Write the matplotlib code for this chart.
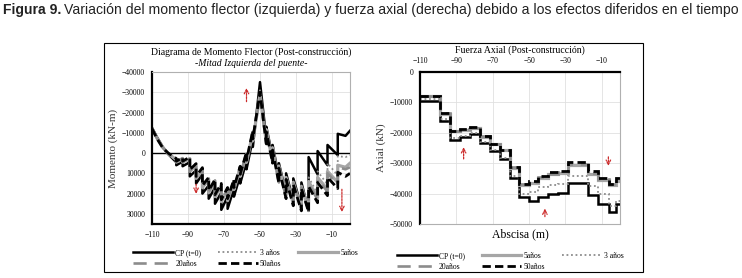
import matplotlib
matplotlib.use('Agg')
import matplotlib.pyplot as plt
import numpy as np
from matplotlib.patches import Rectangle

labels = ['CP (t=0)', '3 años', '5años', '20años', '50años']

# momento flector (kN-m), mitad izquierda del puente
x_mom = [-110, -107, -104, -101, -98, -96.5, -96.5, -93, -93, -89, -89, -85.5, -85.5,
         -82, -82, -78.5, -78.5, -75, -75, -71.5, -71.5, -68, -68, -64.5, -64.5,
         -61, -61, -57.5, -57.5, -54, -54, -50, -46.5, -46.5, -43, -43, -39.5, -39.5,
         -35.5, -35.5, -31.5, -31.5, -27, -27, -23, -23, -18, -18, -12.5, -12.5,
         -6.8, -6.8, -2.5, 0]
m_cp = [-12500, -7500, -3000, 500, 3200, 4500, 6000, 4200, 6500, 4500, 11500, 8500, 15000,
        10500, 20000, 16000, 22500, 17000, 25000, 19500, 28000, 21500, 27500, 17500, 21500,
        11000, 15000, 4000, 8000, -7000, -3000, -35000, -7000, -13000, 2000, -4000, 12000, 5000,
        20000, 10000, 23500, 12500, 26500, 14500, 28500, 2000, 10500, -1000, 6000, -4000,
        1000, -9500, -8500, -11000]
m_3 = [-12000, -7200, -3000, 200, 2500, 3500, 5000, 3200, 5000, 3000, 9500, 6500, 13000,
       8500, 17500, 13500, 20000, 14500, 22000, 16500, 24500, 18500, 24000, 14500, 18500,
       8000, 12000, 1000, 5000, -9500, -5500, -31000, -6000, -12000, 3500, -3000, 13500, 6000,
       21000, 11500, 24500, 14000, 27000, 16000, 28000, 12000, 20000, 9000, 15500, 5000,
       11000, 1500, 2000, 1000]
m_5 = [-12000, -7000, -2800, 300, 2300, 3200, 4500, 2800, 4500, 2700, 9000, 6000, 12500,
       8000, 17000, 13000, 19500, 14000, 21500, 16000, 24000, 18000, 23500, 14000, 18000,
       7500, 11500, 500, 4500, -10000, -6000, -29000, -5500, -11500, 4000, -2500, 14000, 6500,
       21500, 12000, 25000, 14500, 27500, 16500, 28000, 14000, 22000, 12000, 18000, 9000,
       14500, 6000, 7000, 5000]
m_20 = [-12000, -7000, -2700, 200, 2000, 3000, 4300, 2500, 4300, 2400, 8700, 5700, 12000,
        7700, 16500, 12500, 19000, 13500, 21000, 15500, 23500, 17500, 23000, 13500, 17500,
        7000, 11000, 0, 4000, -10500, -6500, -28000, -5000, -11000, 4500, -2000, 14500, 7000,
        22000, 12500, 25500, 15000, 28000, 17000, 28500, 15000, 23000, 13000, 19000, 10000,
        15500, 7000, 8000, 7000]
m_50 = [-12000, -6800, -2500, 0, 1800, 2700, 4000, 2200, 4000, 2000, 8200, 5200, 11500,
        7200, 16000, 12000, 18500, 13000, 20500, 15000, 23000, 17000, 22500, 13000, 17000,
        6500, 10500, -500, 3500, -11000, -7000, -30000, -4500, -10500, 5000, -1500, 15000, 7500,
        22500, 13000, 26000, 15500, 28500, 17500, 29000, 16500, 24500, 14500, 21000, 12000,
        17500, 9500, 11500, 10000]

# fuerza axial (kN), por dovela
x_edges = [-110, -98.8, -93.3, -87.8, -82.3, -76.8, -71.3, -65.8, -60.3, -55.4, -50.2,
           -44.9, -39.4, -34.2, -28.8, -17.4, -11.9, -6.0, -2.0, 0]
n_cp = [-9400, -16000, -22300, -21400, -20400, -23400, -26100, -28500, -34900, -41200,
        -42300, -41000, -40000, -39700, -36500, -40600, -43500, -46000, -43500]
n_3 = [-9000, -15500, -21800, -21000, -20000, -23000, -25700, -28200, -34300, -40000,
       -39400, -37800, -37300, -36800, -34100, -37600, -40200, -44000, -42500]
n_5 = [-8000, -13700, -19500, -19000, -18400, -21300, -23800, -25700, -31500, -37200,
       -36400, -34800, -33600, -33200, -30700, -33600, -35400, -37300, -36000]
n_20 = [-7900, -13600, -19400, -18900, -18300, -21200, -23700, -25600, -31400, -37000,
        -36200, -34600, -33400, -33000, -30300, -33200, -35100, -37000, -35500]
n_50 = [-7800, -13500, -19300, -18750, -18200, -21200, -23700, -25500, -31400, -37000,
        -35800, -34300, -33000, -32600, -29700, -32700, -34900, -36800, -34900]

x_ticks = [-110, -90, -70, -50, -30, -10]

styles = {
    'CP (t=0)': dict(color='black', lw=1.8, ls='-'),
    '3 años': dict(color='#8c8c8c', lw=1.3, ls=(0, (1, 1.5))),
    '5años': dict(color='#a6a6a6', lw=2.3, ls='-'),
    '20años': dict(color='#8c8c8c', lw=1.9, ls=(0, (5, 3))),
    '50años': dict(color='black', lw=2.0, ls=(0, (3, 1.5))),
}

serif = 'Liberation Serif'
red = '#cc2a2a'

fig = plt.figure(figsize=(7.42, 2.78), dpi=100)

# marco
fig.add_artist(Rectangle((104 / 742, 1 - 272 / 278), (643 - 104) / 742, (272 - 43) / 278,
                         transform=fig.transFigure, fill=False, lw=0.8, ec='black'))

# titulo de la figura
cap_font = ['Liberation Sans Narrow', 'Liberation Sans']
t1 = fig.text(0.004, 1 - 10 / 278, 'Figura 9.', fontsize=10.1, fontweight='bold',
              family=cap_font, va='center', color='#222222')
fig.canvas.draw()
bb = t1.get_window_extent()
fig.text(bb.x1 / 742 + 0.004, 1 - 10 / 278,
         'Variación del momento flector (izquierda) y fuerza axial (derecha) debido a los efectos diferidos en el tiempo',
         fontsize=10.1, family=cap_font, va='center', color='#222222')


def style_axes(ax, thick, thin):
    for s in thick:
        ax.spines[s].set_linewidth(1.6)
        ax.spines[s].set_color('black')
    for s in thin:
        ax.spines[s].set_linewidth(0.8)
        ax.spines[s].set_color('#b0b0b0')
    ax.grid(True, color='#e0e0e0', lw=0.6)
    ax.set_axisbelow(True)
    ax.tick_params(length=0, labelsize=5.5, pad=5)
    for lab in ax.get_xticklabels() + ax.get_yticklabels():
        lab.set_family(serif)


# ---------- momento ----------
ax1 = fig.add_axes([152 / 742, 1 - 224 / 278, 198 / 742, 152 / 278])
ax1.axhline(0, color='black', lw=1.0, zorder=1)
for lab, m in zip(labels, [m_cp, m_3, m_5, m_20, m_50]):
    ax1.plot(x_mom, m, label=lab, **styles[lab])
ax1.set_xlim(-110, 0)
ax1.set_ylim(35000, -40000)
ax1.set_xticks(x_ticks)
ax1.set_yticks(np.arange(-40000, 30001, 10000))
style_axes(ax1, ['left', 'bottom'], ['top', 'right'])
ax1.set_ylabel('Momento (kN-m)', family=serif, fontsize=8, color='#333333', labelpad=3)
fig.text(251 / 742, 1 - 52 / 278, 'Diagrama de Momento Flector (Post-construcción)',
         family=serif, fontsize=7, ha='center', va='center')
fig.text(251 / 742, 1 - 63 / 278, '-Mitad Izquierda del puente-',
         family=serif, fontsize=7, style='italic', ha='center', va='center')

arrow = dict(arrowstyle='->', color=red, lw=0.9, ls=(0, (1.5, 1)), mutation_scale=8)
ax1.annotate('', xy=(-57.5, -33500), xytext=(-57.5, -24000), arrowprops=arrow)
ax1.annotate('', xy=(-85.5, 21500), xytext=(-85.5, 14000), arrowprops=arrow)
ax1.annotate('', xy=(-4.5, 30500), xytext=(-4.5, 16500), arrowprops=arrow)

h1, l1 = ax1.get_legend_handles_labels()
order = [0, 3, 1, 4, 2]
ax1.legend([h1[i] for i in order], [l1[i] for i in order], ncol=3, loc='upper left',
           bbox_to_anchor=(-0.13, -0.12), frameon=False, prop=dict(family=serif, size=5.5),
           handlelength=5.2, columnspacing=2.2, handletextpad=0.3, labelspacing=0.35)

# ---------- axial ----------
ax2 = fig.add_axes([420 / 742, 1 - 224 / 278, 200 / 742, 152 / 278])
for lab, n in zip(labels, [n_cp, n_3, n_5, n_20, n_50]):
    ax2.stairs(n, x_edges, baseline=None, label=lab, **styles[lab])
ax2.set_xlim(-110, 0)
ax2.set_ylim(-50000, 0)
ax2.set_xticks(x_ticks)
ax2.set_yticks(np.arange(-50000, 1, 10000))
ax2.xaxis.tick_top()
style_axes(ax2, ['left', 'top'], ['bottom', 'right'])
ax2.set_ylabel('Axial (kN)', family=serif, fontsize=8, color='#333333', labelpad=3)
ax2.set_xlabel('Abscisa (m)', family=serif, fontsize=8.5, labelpad=3)
fig.text(520 / 742, 1 - 50 / 278, 'Fuerza Axial (Post-construcción)',
         family=serif, fontsize=7, ha='center', va='center')

ax2.annotate('', xy=(-86, -23800), xytext=(-86, -29500), arrowprops=arrow)
ax2.annotate('', xy=(-41.3, -44000), xytext=(-41.3, -48500), arrowprops=arrow)
ax2.annotate('', xy=(-6.4, -31800), xytext=(-6.4, -27000), arrowprops=arrow)

h2, l2 = ax2.get_legend_handles_labels()
order2 = [0, 3, 2, 4, 1]
ax2.legend([h2[i] for i in order2], [l2[i] for i in order2], ncol=3, loc='upper left',
           bbox_to_anchor=(-0.15, -0.14), frameon=False, prop=dict(family=serif, size=5.5),
           handlelength=5.2, columnspacing=2.2, handletextpad=0.3, labelspacing=0.35)

fig.savefig('out.png', dpi=100)
